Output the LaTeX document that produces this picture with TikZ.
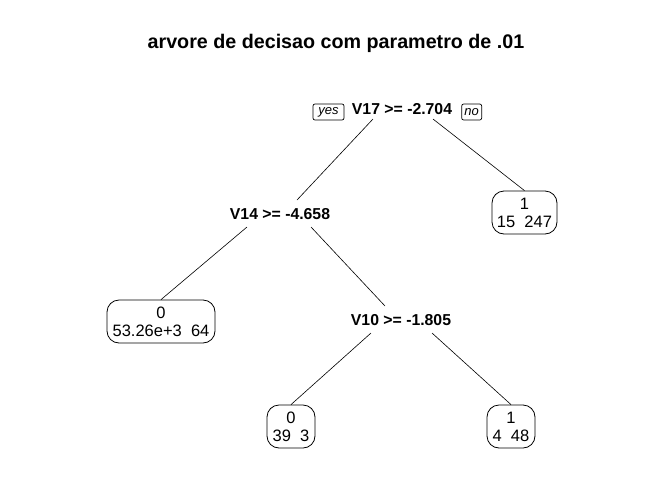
\documentclass[tikz,border=0pt]{standalone}
\usepackage{fontspec}
\setmainfont{Liberation Sans}
\begin{document}
\begin{tikzpicture}[x=1pt,y=-1pt,
  lbl/.style={font=\fontsize{15.8}{18}\selectfont\bfseries, inner sep=0pt},
  leaf/.style={draw, rounded corners=12pt, line width=0.8pt, align=center,
    font=\fontsize{16.5}{18}\selectfont, inner sep=0pt, minimum height=43pt},
  tag/.style={draw, rounded corners=2pt, line width=0.7pt,
    font=\fontsize{13}{14}\selectfont\itshape, inner sep=0pt, minimum height=16pt},
  edge/.style={line width=0.6pt}]
\useasboundingbox (0,0) rectangle (672,480);
\node[font=\fontsize{19.7}{22}\selectfont\bfseries, inner sep=0pt] (title) at (336,43) {arvore de decisao com parametro de .01};
\node[lbl] (r) at (402,109.5) {V17 >= -2.704};
\node[tag, minimum width=31pt] (yes) at (328.5,112) {yes};
\node[tag, minimum width=20pt] (no) at (471.7,112) {no};
\node[lbl] (v14) at (280,214.5) {V14 >= -4.658};
\node[lbl] (v10) at (401,320) {V10 >= -1.805};
\node[leaf, minimum width=65pt] (l1) at (524.5,212.5) {1\\15\ \ 247};
\node[leaf, minimum width=108pt] (l2) at (161,321.5) {0\\53.26e+3\ \ 64};
\node[leaf, minimum width=48pt] (l3) at (291,426.5) {0\\39\ \ 3};
\node[leaf, minimum width=48pt] (l4) at (511,426.5) {1\\4\ \ 48};
\draw[edge] ([shift={(-29,9.5)}]r.center) -- ([shift={(17,-14.5)}]v14.center);
\draw[edge] ([shift={(31,9.5)}]r.center) -- (l1.north);
\draw[edge] ([shift={(-33,12.5)}]v14.center) -- (l2.north);
\draw[edge] ([shift={(31,12.5)}]v14.center) -- ([shift={(-16,-14)}]v10.center);
\draw[edge] ([shift={(-30,13)}]v10.center) -- (l3.north);
\draw[edge] ([shift={(31,13)}]v10.center) -- (l4.north);
\end{tikzpicture}
\end{document}
